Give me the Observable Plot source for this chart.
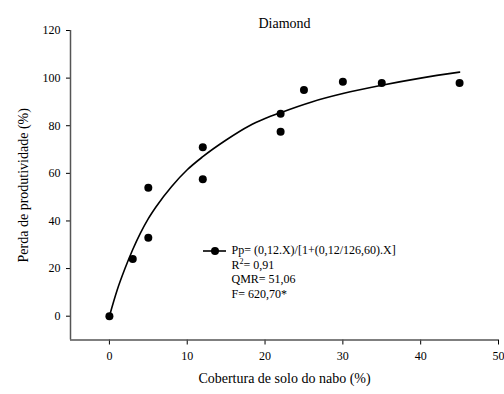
<!DOCTYPE html>
<html>
<head>
<meta charset="utf-8">
<script src="https://cdn.jsdelivr.net/npm/d3@7"></script>
<script src="https://cdn.jsdelivr.net/npm/@observablehq/plot@0.6"></script>
<style>
  body { margin: 0; background: #fff; }
  #chart svg { display: block; }
</style>
</head>
<body>
<div id="chart"></div>
<script>
// Observed yield loss (%) against wild radish soil cover (%)
const cobertura = [0, 3, 5, 5, 12, 12, 22, 22, 25, 30, 35, 45];
const perda = [0, 24, 33, 54, 71, 57.5, 85, 77.5, 95, 98.5, 98, 98];

// Fitted rectangular-hyperbola curve, sampled along the cover axis
const curvaX = [0, 1, 2, 3, 4, 5, 6, 8, 10, 12, 15, 18, 20, 22, 26, 30, 35, 40, 45];
const curvaY = [0, 11, 20, 28, 35, 41, 46, 54.5, 61.5, 67, 74, 80, 83, 85.5, 90, 93.5, 97, 100, 102.5];

const xTicks = [0, 10, 20, 30, 40, 50];
const yTicks = [0, 20, 40, 60, 80, 100, 120];

const titulo = "Diamond";
const rotuloX = "Cobertura de solo do nabo (%)";
const rotuloY = "Perda de produtividade (%)";

// Fit statistics shown in the legend
const equacao = "Pp= (0,12.X)/[1+(0,12/126,60).X]";
const r2 = "0,91";
const qmr = "51,06";
const fValor = "620,70*";

const pontos = cobertura.map((x, i) => ({x, y: perda[i]}));
const curva = curvaX.map((x, i) => ({x, y: curvaY[i]}));

const fonte = '"Liberation Serif", "Times New Roman", Times, serif';

const chart = Plot.plot({
  width: 504,
  height: 394,
  marginLeft: 70,
  marginRight: 6,
  marginTop: 30,
  marginBottom: 54.5,
  style: {fontFamily: fonte, fontSize: "12px", color: "#000", background: "#fff"},
  x: {domain: [-5, 50]},
  y: {domain: [-10, 120]},
  marks: [
    Plot.axisX({ticks: xTicks, tickSize: 5, tickPadding: 6, label: null, stroke: "#000",
      fontFamily: fonte, fontSize: 12, fontVariant: "normal"}),
    Plot.axisY({ticks: yTicks, tickSize: 4, tickPadding: 6, label: null, stroke: "#000",
      fontFamily: fonte, fontSize: 12, fontVariant: "normal"}),
    Plot.ruleX([-5], {stroke: "#555", strokeWidth: 1.5}),
    Plot.ruleY([-10], {stroke: "#555", strokeWidth: 1.5}),
    Plot.line(curva, {x: "x", y: "y", curve: "monotone-x", stroke: "#000", strokeWidth: 1.6}),
    Plot.dot(pontos, {x: "x", y: "y", r: 4, fill: "#000", stroke: null}),
    Plot.text([titulo], {frameAnchor: "top", dy: -12, fontSize: 14, fontFamily: fonte}),
    Plot.text([rotuloX], {frameAnchor: "bottom", dy: 42.5, fontSize: 14, fontFamily: fonte}),
    Plot.text([rotuloY], {frameAnchor: "left", textAnchor: "middle", dx: -47, rotate: -90,
      fontSize: 14, fontFamily: fonte})
  ]
});

// Legend: line-and-dot key followed by the fitted equation and statistics
const svg = d3.select(chart);
const leg = svg.append("g")
  .attr("font-family", fonte)
  .attr("font-size", 12)
  .attr("text-anchor", "start")
  .attr("fill", "#000");
leg.append("line")
  .attr("x1", 203).attr("x2", 226).attr("y1", 251).attr("y2", 251)
  .attr("stroke", "#000").attr("stroke-width", 1.6);
leg.append("circle").attr("cx", 215).attr("cy", 251).attr("r", 4).attr("fill", "#000");

const tx = 231.5;
leg.append("text").attr("x", tx).attr("y", 254).text(equacao);
const r2t = leg.append("text").attr("x", tx).attr("y", 268.5);
r2t.append("tspan").text("R");
r2t.append("tspan").attr("font-size", 8).attr("dy", -5).text("2");
r2t.append("tspan").attr("dy", 5).text("= " + r2);
leg.append("text").attr("x", tx).attr("y", 283).text("QMR= " + qmr);
leg.append("text").attr("x", tx).attr("y", 297.5).text("F= " + fValor);

document.getElementById("chart").appendChild(chart);
</script>
</body>
</html>
